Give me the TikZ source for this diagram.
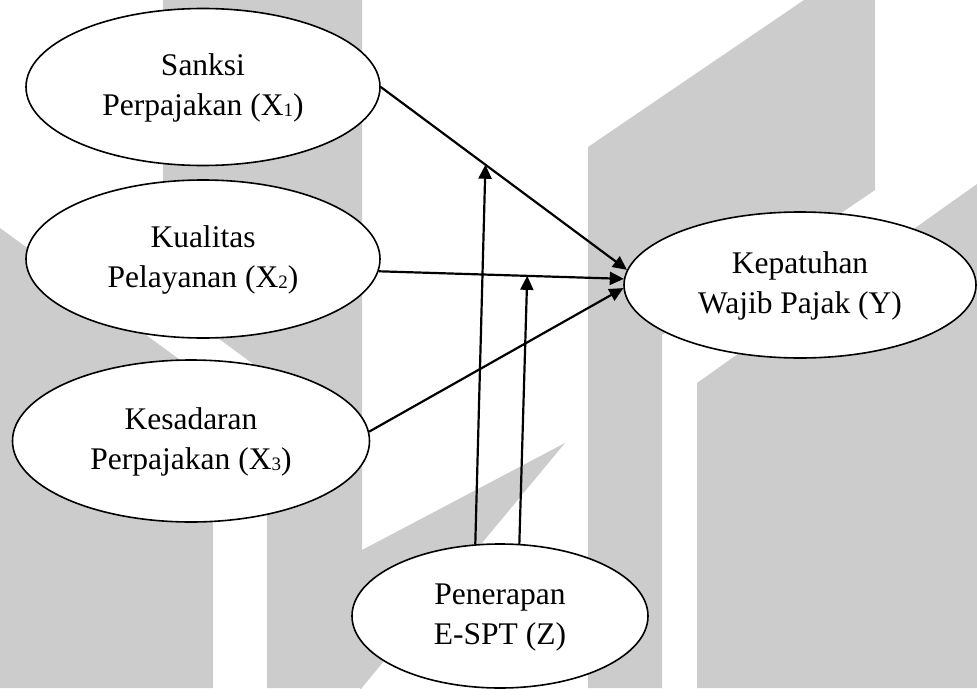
\documentclass[tikz,border=0pt]{standalone}
\usepackage{fontspec}
\setmainfont{Liberation Serif}
\usetikzlibrary{shapes.geometric,arrows.meta}
\definecolor{wm}{RGB}{204,204,204}
\newcommand{\sbs}[1]{\raisebox{-1pt}{\fontsize{19}{19}\selectfont #1}}
\newcommand{\twolines}[2]{{\fontsize{31.5}{40}\selectfont\begin{tabular}{@{}c@{}}#1\\#2\end{tabular}}}
\begin{document}
\begin{tikzpicture}[x=1pt,y=-1pt,
  var/.style={ellipse,draw,line width=1.6pt,fill=white,inner sep=0pt,align=center},
  link/.style={line width=2.2pt,-{Triangle[length=14pt,width=13pt]}},
  wmark/.style={fill=wm,draw=none}]
\useasboundingbox (0,0) rectangle (977,688);
% watermark
\fill[wmark] (163,0) -- (362,0) -- (362,688) -- (267,688) -- (267,374) -- (163,298) -- cycle;
\fill[wmark] (0,228) -- (213,384) -- (213,688) -- (0,688) -- cycle;
\fill[wmark] (362,550) -- (565,443) -- (360,690) -- cycle;
\fill[wmark] (588,688) -- (588,147) -- (804,0) -- (875,0) -- (875,190) -- (662,335) -- (662,688) -- cycle;
\fill[wmark] (697,688) -- (697,383) -- (977,184) -- (977,688) -- cycle;
% nodes
\node[var,minimum width=354pt,minimum height=157pt] (X1) at (203,87) {\twolines{Sanksi}{Perpajakan (X\sbs{1})}};
\node[var,minimum width=354pt,minimum height=158pt] (X2) at (203,259) {\twolines{Kualitas}{Pelayanan (X\sbs{2})}};
\node[var,minimum width=357pt,minimum height=162pt] (X3) at (191,441) {\raisebox{3pt}{\twolines{Kesadaran}{Perpajakan (X\sbs{3})}}};
\node[var,minimum width=352pt,minimum height=146pt] (Y) at (800,285) {\twolines{Kepatuhan}{Wajib Pajak (Y)}};
\node[var,minimum width=296pt,minimum height=144pt] (Z) at (500,616) {\raisebox{-4pt}{\twolines{Penerapan}{E-SPT (Z)}}};
% connectors
\draw[link] (X1.east) -- coordinate[pos=0.425] (m1) (Y.175);
\draw[link] (X2.-4) -- coordinate[pos=0.606] (m2) (Y.178);
\draw[link] (X3.3) -- (Y.181);
\draw[link] (Z.109) -- (m1);
\draw[link] (Z.75) -- (m2);
\end{tikzpicture}
\end{document}
